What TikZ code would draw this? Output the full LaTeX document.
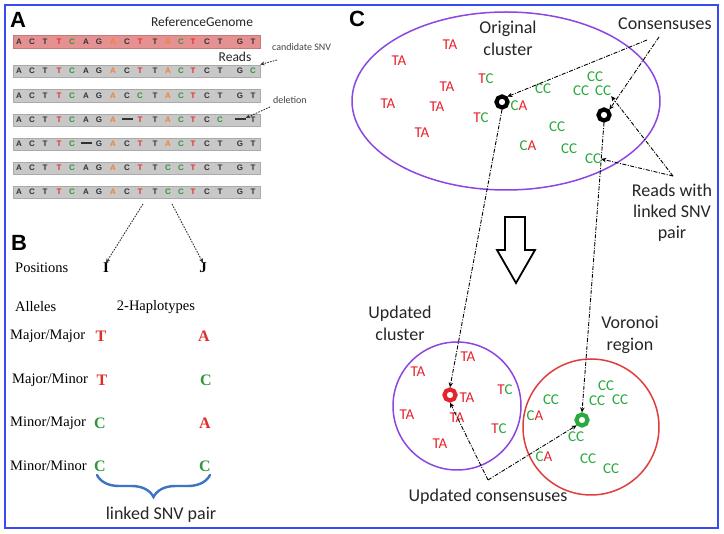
\documentclass[tikz,border=0pt]{standalone}
\usepackage{fontspec}
\setmainfont{Liberation Serif}
\newfontfamily\calfont{Carlito}
\newfontfamily\arfont{Liberation Sans}
\usetikzlibrary{arrows.meta,decorations.pathreplacing}
\definecolor{bordblue}{RGB}{55,75,240}
\definecolor{refpink}{RGB}{230,145,145}
\definecolor{barg}{RGB}{200,200,200}
\definecolor{seqk}{RGB}{50,50,50}
\definecolor{seqr}{RGB}{225,45,45}
\definecolor{seqg}{RGB}{50,150,60}
\definecolor{seqo}{RGB}{240,130,50}
\definecolor{cred}{RGB}{230,35,45}
\definecolor{cgreen}{RGB}{40,170,60}
\definecolor{cpurple}{RGB}{140,70,225}
\definecolor{credc}{RGB}{225,60,60}
\definecolor{braceblue}{RGB}{60,115,195}
\definecolor{annog}{RGB}{70,70,70}
\newcommand\redl[1]{\textcolor{cred}{#1}}
\newcommand\grnl[1]{\textcolor{cgreen}{#1}}
\newcommand\seqdash{\rule[2.2pt]{11pt}{1.4pt}}
\newcommand\seqrow[3]{%
  \foreach \seqL/\seqC [count=\seqI] in {#3} {%
    \pgfmathsetmacro{\xx}{{19,32,45,59,72,86,99,113,127,140,155,168,181,193,207,220,240,253}[\seqI-1]}%
    \node[seqlet=seq\seqC] (#1-\seqI) at (\xx,#2) {\seqL};
  }%
}
\begin{document}
\begin{tikzpicture}[x=1pt,y=-1pt,
  seqbar/.style={draw=#1!85!black, fill=#1, minimum width=247pt, minimum height=12.5pt, inner sep=0pt},
  seqlet/.style={text=#1, font=\arfont\bfseries\fontsize{8}{8}\selectfont, inner sep=0pt},
  panel/.style={font=\arfont\bfseries\fontsize{22}{22}\selectfont, inner sep=0pt},
  ctext/.style={font=\calfont\fontsize{18}{22}\selectfont, text=black!85, inner sep=0pt, align=center},
  atext/.style={font=\calfont\fontsize{13.5}{14}\selectfont, text=black!85, inner sep=0pt},
  anno/.style={font=\calfont\fontsize{10}{10}\selectfont, text=annog, inner sep=0pt, anchor=west},
  btext/.style={font=\fontsize{14.5}{15}\selectfont, inner sep=0pt},
  ball/.style={font=\bfseries\fontsize{16}{16}\selectfont, inner sep=0pt, text=#1},
  rd/.style={font=\calfont\fontsize{15}{15}\selectfont, inner sep=0pt},
  ring/.style={circle, draw=#1, line width=4.2pt, minimum size=11pt, inner sep=0pt},
  dd/.style={draw=black, line width=0.9pt, dash pattern=on 4pt off 1.5pt on 1pt off 1.5pt, -{Stealth[length=5pt,width=4.5pt]}},
  dotarr/.style={draw=black!80, line width=0.9pt, dash pattern=on 1.6pt off 1.2pt, -{Stealth[length=4.5pt,width=4pt]}}
]
\useasboundingbox (0,0) rectangle (724,534);
\fill[white] (0,0) rectangle (724,534);
\draw[bordblue, line width=2.6pt] (5,5) rectangle (718,528);

% ---------- Panel A ----------
\node[panel] (labA) at (18,20) {A};
\node[atext] (refg) at (202,22) {ReferenceGenome};
\node[atext] (reads) at (235,57) {Reads};
\node[seqbar=refpink] (bref) at (136.5,41.5) {};
\node[seqbar=barg] (b1) at (136.5,71) {};
\node[seqbar=barg] (b2) at (136.5,95.5) {};
\node[seqbar=barg] (b3) at (136.5,120) {};
\node[seqbar=barg] (b4) at (136.5,144) {};
\node[seqbar=barg] (b5) at (136.5,168) {};
\node[seqbar=barg] (b6) at (136.5,192) {};
\seqrow{ref}{41.5}{A/k,C/k,T/k,T/r,C/g,A/k,G/k,A/o,C/k,T/r,T/k,A/o,C/g,T/r,C/k,T/k,G/k,T/k}
\seqrow{r1}{71}{A/k,C/k,T/k,T/r,C/g,A/k,G/k,A/o,C/k,T/r,T/k,A/o,C/g,T/r,C/k,T/k,G/k,C/g}
\seqrow{r2}{95.5}{A/k,C/k,T/k,T/r,C/g,A/k,G/k,A/o,C/k,C/g,T/k,A/o,C/g,T/r,C/k,T/k,G/k,T/k}
\seqrow{r3}{120}{A/k,C/k,T/k,T/r,C/g,A/k,G/k,A/o,\seqdash/k,T/r,T/k,A/o,C/g,T/r,C/k,C/g,\seqdash/k,T/k}
\seqrow{r4}{144}{A/k,C/k,T/k,T/r,C/g,\seqdash/k,G/k,A/o,C/k,T/r,T/k,A/o,C/g,T/r,C/k,T/k,G/k,T/k}
\seqrow{r5}{168}{A/k,C/k,T/k,T/r,C/g,A/k,G/k,A/o,C/k,T/r,T/k,C/g,C/g,T/r,C/k,T/k,G/k,T/k}
\seqrow{r6}{192}{A/k,C/k,T/k,T/r,C/g,A/k,G/k,A/o,C/k,T/r,T/k,C/g,C/g,T/r,C/k,T/k,G/k,T/k}
\node[anno] (cand) at (272,47) {candidate SNV};
\node[anno] (del) at (273,100) {deletion};
\coordinate (candA) at (277,60);
\coordinate (delA) at (270,107);
\draw[dotarr] (candA) -- (b1.north east);
\draw[dotarr] (delA) -- (r3-17.north east);

% ---------- Panel B ----------
\node[panel] (labB) at (19,243) {B};
\node[btext, anchor=west] (pos) at (15,268) {Positions};
\node[btext, font=\bfseries\fontsize{15}{15}\selectfont] (I) at (106,268) {I};
\node[btext, font=\bfseries\fontsize{15}{15}\selectfont] (J) at (203,268) {J};
\coordinate (sI) at (143,204);
\coordinate (sJ) at (172,204);
\draw[dotarr] (sI) -- (I.north);
\draw[dotarr] (sJ) -- (J.north);
\node[btext, anchor=west] (all) at (15,307) {Alleles};
\node[btext] (hap) at (156,307) {2-Haplotypes};
\node[btext, anchor=west] (mm) at (10,336) {Major/Major};
\node[btext, anchor=west] (mn) at (12,380) {Major/Minor};
\node[btext, anchor=west] (nm) at (10,423) {Minor/Major};
\node[btext, anchor=west] (nn) at (10,466) {Minor/Minor};
\node[ball=seqr] (mmI) at (101,336) {T};
\node[ball=seqr] (mmJ) at (204,336) {A};
\node[ball=seqr] (mnI) at (102,380) {T};
\node[ball=seqg] (mnJ) at (206,380) {C};
\node[ball=seqg] (nmI) at (100,423) {C};
\node[ball=seqr] (nmJ) at (205,423) {A};
\node[ball=seqg] (nnI) at (100,466) {C};
\node[ball=seqg] (nnJ) at (205,466) {C};
\draw[braceblue, line width=2.4pt, line cap=round, decorate, decoration={brace, mirror, amplitude=22pt}] (97,475) -- (210,475);
\node[ctext] (lsp) at (161,515) {linked SNV pair};

% ---------- Panel C ----------
\node[panel] (labC) at (357,19) {C};
\draw[cpurple, line width=1.5pt] (506,101) ellipse [x radius=154, y radius=89];
\draw[cpurple, line width=1.5pt] (457,406) circle [radius=64];
\draw[credc, line width=1.5pt] (591,427) circle [radius=68];
\node[ctext] (orig) at (508,38) {Original\\cluster};
\node[ctext] (cons) at (665,24) {Consensuses};
\node[ctext, font=\calfont\fontsize{18}{21}\selectfont] (rw) at (672,213) {Reads with\\linked SNV\\pair};
\node[ctext] (updc) at (400,323) {Updated\\cluster};
\node[ctext] (vor) at (630,335) {Voronoi\\region};
\node[ctext] (updcons) at (488,497) {Updated consensuses};

% reads, original cluster
\node[rd] (ta1) at (450,45) {\redl{TA}};
\node[rd] (ta2) at (399,61) {\redl{TA}};
\node[rd] (ta3) at (447,87) {\redl{TA}};
\node[rd] (ta4) at (388,104) {\redl{TA}};
\node[rd] (ta5) at (437,107) {\redl{TA}};
\node[rd] (ta6) at (422,133) {\redl{TA}};
\node[rd] (tc1) at (486,79) {\redl{T}\grnl{C}};
\node[rd] (tc2) at (481,118) {\redl{T}\grnl{C}};
\node[rd] (ca1) at (519,106) {\grnl{C}\redl{A}};
\node[rd] (ca2) at (528,146) {\grnl{C}\redl{A}};
\node[rd] (cc1) at (543,89) {\grnl{CC}};
\node[rd] (cc2) at (595,77) {\grnl{CC}};
\node[rd] (cc3) at (581,91) {\grnl{CC}};
\node[rd] (ccA) at (603,91) {\grnl{CC}};
\node[rd] (cc5) at (557,127) {\grnl{CC}};
\node[rd] (cc6) at (569,149) {\grnl{CC}};
\node[rd] (ccB) at (593,159) {\grnl{CC}};
% reads, updated cluster
\node[rd] (uta1) at (468,357) {\redl{TA}};
\node[rd] (uta2) at (418,372) {\redl{TA}};
\node[rd] (uta3) at (467,398) {\redl{TA}};
\node[rd] (utc1) at (505,390) {\redl{T}\grnl{C}};
\node[rd] (uta4) at (407,415) {\redl{TA}};
\node[rd] (uta5) at (457,418) {\redl{TA}};
\node[rd] (utc2) at (499,429) {\redl{T}\grnl{C}};
\node[rd] (uta6) at (440,444) {\redl{TA}};
% reads, Voronoi region
\node[rd] (vcc1) at (606,386) {\grnl{CC}};
\node[rd] (vcc2) at (551,400) {\grnl{CC}};
\node[rd] (vcc3) at (597,401) {\grnl{CC}};
\node[rd] (vcc4) at (620,400) {\grnl{CC}};
\node[rd] (vca1) at (535,416) {\grnl{C}\redl{A}};
\node[rd] (vcc5) at (576,437) {\grnl{CC}};
\node[rd] (vca2) at (544,457) {\grnl{C}\redl{A}};
\node[rd] (vcc6) at (588,459) {\grnl{CC}};
\node[rd] (vcc7) at (611,469) {\grnl{CC}};

% consensus rings
\node[ring=black] (c1) at (502,102) {};
\node[ring=black] (c2) at (604,115) {};
\node[ring=cred] (u1) at (450,395) {};
\node[ring=cgreen] (g1) at (582,420) {};

% connectors
\coordinate (consA) at (647,40);
\coordinate (consB) at (659,37);
\coordinate (rwA) at (673,176);
\coordinate (uc) at (488,480);
\draw[dd] (consA) -- (c1.north east);
\draw[dd] (consB) -- (c2.north east);
\draw[dd] (rwA) -- (ccA.south east);
\draw[dd] (rwA) -- (ccB.east);
\draw[dd] (c1.south) -- (u1.north);
\draw[dd] (c2.south) -- (g1.north);
\draw[dd] (uc) -- (u1.south);
\draw[dd] (uc) -- (g1.south west);

% hollow arrow
\draw[line width=1.8pt, fill=white, line join=miter] (505,217) -- (525,217) -- (525,250) -- (535,250) -- (516,283) -- (497,250) -- (505,250) -- cycle;
\end{tikzpicture}
\end{document}
